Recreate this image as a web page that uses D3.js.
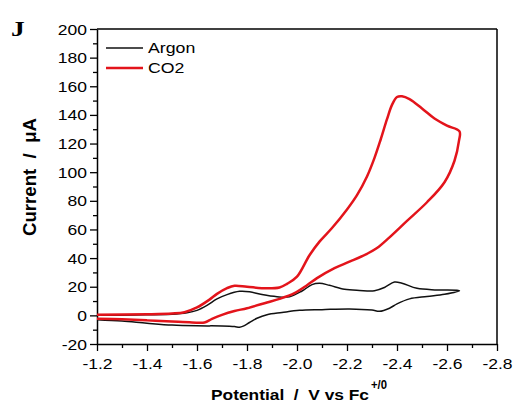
<!DOCTYPE html>
<html>
<head>
<meta charset="utf-8">
<script src="https://cdn.jsdelivr.net/npm/d3@7"></script>
<style>
  html, body { margin: 0; padding: 0; background: #fff; }
  svg { display: block; }
  text { fill: #000; }
</style>
</head>
<body>
<svg id="chart" width="515" height="413"></svg>
<script>
// ---- data ----
const xTicks = [-1.2, -1.4, -1.6, -1.8, -2.0, -2.2, -2.4, -2.6, -2.8];
const xMinorTicks = [-1.3, -1.5, -1.7, -1.9, -2.1, -2.3, -2.5, -2.7];
const yTicks = [-20, 0, 20, 40, 60, 80, 100, 120, 140, 160, 180, 200];
const yMinorTicks = [-10, 10, 30, 50, 70, 90, 110, 130, 150, 170, 190];
const seriesNames = ["Argon", "CO2"];

// Argon: forward scan (to negative potentials) then reverse scan
const argonPotential = [
  -1.20, -1.35, -1.50, -1.56, -1.60, -1.64, -1.68, -1.72, -1.77, -1.81, -1.86, -1.92, -1.97,
  -2.02, -2.06, -2.09, -2.13, -2.19, -2.25, -2.31, -2.35, -2.39, -2.42, -2.48, -2.56, -2.65,
  -2.59, -2.52, -2.45, -2.40, -2.37, -2.33, -2.30, -2.21, -2.10, -2.01, -1.94, -1.88, -1.84,
  -1.81, -1.785, -1.77, -1.75, -1.70, -1.60, -1.50, -1.40, -1.30, -1.20
];
const argonCurrent = [
  0.0, 0.3, 0.8, 1.8, 3.5, 7.0, 11.5, 14.5, 16.8, 16.5, 14.5, 13.0, 13.0,
  17.0, 21.5, 22.4, 21.0, 18.2, 17.4, 17.2, 19.5, 23.3, 22.5, 18.9, 17.8, 17.2,
  14.7, 13.2, 11.5, 8.0, 5.0, 2.8, 3.7, 4.5, 4.0, 3.5, 2.0, 0.5, -2.0,
  -5.0, -7.5, -8.3, -7.8, -7.4, -7.3, -6.8, -5.5, -4.0, -3.0
];

// CO2: forward scan then reverse scan
const co2Potential = [
  -1.20, -1.40, -1.50, -1.55, -1.60, -1.65, -1.68, -1.72, -1.75, -1.80, -1.88, -1.93, -1.96,
  -2.00, -2.05, -2.09, -2.14, -2.20, -2.24, -2.28, -2.31, -2.335, -2.36, -2.38, -2.40,
  -2.42, -2.45, -2.50, -2.55, -2.60, -2.65,
  -2.648, -2.63, -2.59, -2.52, -2.44, -2.37, -2.32, -2.28, -2.21, -2.15, -2.08, -2.04,
  -1.99, -1.93, -1.88, -1.80, -1.75, -1.70, -1.66, -1.63, -1.58, -1.50, -1.40, -1.30, -1.20
];
const co2Current = [
  0.5, 0.8, 1.3, 2.2, 5.5, 11.0, 15.0, 19.0, 20.7, 20.0, 18.9, 19.5, 22.0,
  27.0, 42.0, 51.5, 61.0, 74.0, 84.0, 97.0, 110.0, 123.0, 137.0, 147.0, 152.5,
  153.0, 151.0, 144.5, 137.5, 132.5, 128.5,
  122.0, 108.0, 93.0, 79.0, 66.0, 54.5, 47.0, 43.0, 37.5, 33.0, 26.0, 21.0,
  15.5, 11.5, 9.0, 5.0, 3.0, 0.3, -2.5, -5.0, -4.9, -4.3, -3.5, -2.8, -2.3
];

// ---- drawing ----
const svg = d3.select("#chart");
const mLeft = 97, mRight = 497, mTop = 29, mBottom = 344;
const STRETCH = 1.25;
const SANS = '"Liberation Sans", Arial, sans-serif';

const x = d3.scaleLinear().domain([-1.2, -2.8]).range([mLeft, mRight]);
const y = d3.scaleLinear().domain([-20, 200]).range([mBottom, mTop]);

function stretch(sel, f) {
  sel.each(function () {
    const w = this.getComputedTextLength();
    d3.select(this).attr("textLength", w * f).attr("lengthAdjust", "spacingAndGlyphs");
  });
}

// minor ticks
svg.append("g")
  .attr("transform", `translate(0,${mBottom})`)
  .call(d3.axisBottom(x).tickValues(xMinorTicks).tickSize(4).tickFormat(""))
  .call(g => g.select(".domain").remove())
  .call(g => g.selectAll("line").attr("stroke-width", 1.3));
svg.append("g")
  .attr("transform", `translate(${mLeft},0)`)
  .call(d3.axisLeft(y).tickValues(yMinorTicks).tickSize(4).tickFormat(""))
  .call(g => g.select(".domain").remove())
  .call(g => g.selectAll("line").attr("stroke-width", 1.3));

// major axes
const gx = svg.append("g")
  .attr("transform", `translate(0,${mBottom})`)
  .call(d3.axisBottom(x).tickValues(xTicks).tickSize(7).tickSizeOuter(0).tickPadding(6)
    .tickFormat(d => d.toFixed(1)));
gx.select(".domain").attr("stroke-width", 1.5);
gx.selectAll("line").attr("stroke-width", 1.3);
gx.selectAll("text").style("font-family", SANS).style("font-size", "14px")
  .attr("dy", null).attr("y", 25).call(stretch, STRETCH);

const gy = svg.append("g")
  .attr("transform", `translate(${mLeft},0)`)
  .call(d3.axisLeft(y).tickValues(yTicks).tickSize(7).tickSizeOuter(0).tickPadding(3)
    .tickFormat(d => String(d)));
gy.select(".domain").attr("stroke-width", 1.5);
gy.selectAll("line").attr("stroke-width", 1.3);
gy.selectAll("text").style("font-family", SANS).style("font-size", "14px")
  .attr("x", -10).attr("dy", null).attr("y", 5).call(stretch, STRETCH);

// top and right frame
svg.append("line").attr("x1", mLeft).attr("x2", mRight).attr("y1", mTop).attr("y2", mTop)
  .attr("stroke", "#000").attr("stroke-width", 1.5);
svg.append("line").attr("x1", mRight).attr("x2", mRight).attr("y1", mTop).attr("y2", mBottom)
  .attr("stroke", "#000").attr("stroke-width", 1.5);

// curves
const line = d3.line()
  .x(d => x(d[0]))
  .y(d => y(d[1]))
  .curve(d3.curveCatmullRom.alpha(0.5));

const argonData = argonPotential.map((p, i) => [p, argonCurrent[i]]);
const co2Data = co2Potential.map((p, i) => [p, co2Current[i]]);
const colors = { "Argon": "#111111", "CO2": "#e3141b" };
const widths = { "Argon": 1.5, "CO2": 2.5 };

svg.append("path").datum(argonData)
  .attr("fill", "none").attr("stroke", colors.Argon).attr("stroke-width", widths.Argon)
  .attr("stroke-linejoin", "round").attr("d", line);
svg.append("path").datum(co2Data)
  .attr("fill", "none").attr("stroke", colors.CO2).attr("stroke-width", widths.CO2)
  .attr("stroke-linejoin", "round").attr("d", line);

// legend
const legend = svg.append("g");
seriesNames.forEach((name, i) => {
  const ly = 48 + i * 20;
  legend.append("line").attr("x1", 106).attr("x2", 143).attr("y1", ly).attr("y2", ly)
    .attr("stroke", colors[name]).attr("stroke-width", widths[name]);
  legend.append("text").attr("x", 148).attr("y", ly + 5)
    .style("font-family", SANS).style("font-size", "15px")
    .text(name).call(stretch, 1.18);
});

// axis titles
svg.append("text").attr("x", 211).attr("y", 400)
  .style("font-family", SANS).style("font-size", "14px").style("font-weight", "bold")
  .style("white-space", "pre")
  .text("Potential  /  V vs Fc").attr("textLength", 158).attr("lengthAdjust", "spacingAndGlyphs");
svg.append("text").attr("x", 371).attr("y", 389)
  .style("font-family", SANS).style("font-size", "13px").style("font-weight", "bold")
  .text("+/0").attr("textLength", 16).attr("lengthAdjust", "spacingAndGlyphs");

svg.append("text")
  .attr("transform", `translate(36,177) scale(${STRETCH},1) rotate(-90)`)
  .attr("text-anchor", "middle")
  .style("font-family", SANS).style("font-size", "14px").style("font-weight", "bold")
  .style("white-space", "pre")
  .text("Current  /  μA").attr("textLength", 118).attr("lengthAdjust", "spacingAndGlyphs");

// panel letter
svg.append("text")
  .attr("transform", `translate(11,36) scale(${STRETCH},1)`)
  .style("font-family", '"Liberation Serif", "Times New Roman", serif')
  .style("font-size", "22px").style("font-weight", "bold").text("J");
</script>
</body>
</html>
